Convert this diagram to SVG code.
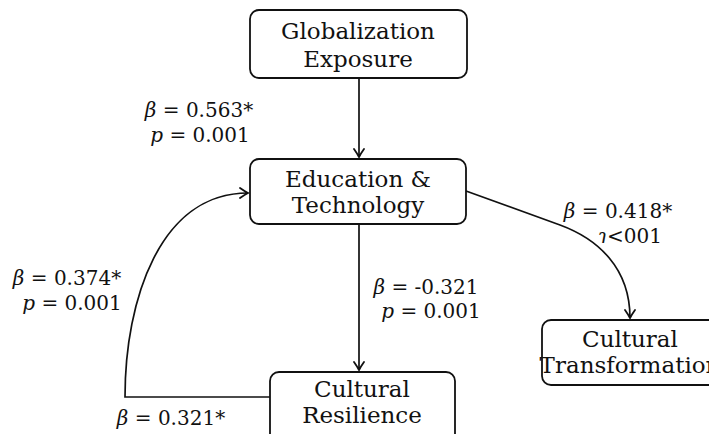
<svg xmlns="http://www.w3.org/2000/svg" width="709" height="434" viewBox="0 0 709 434">
<defs>
<style>
.box{fill:#fff;stroke:#111;stroke-width:1.8}
.nt{font-family:"DejaVu Serif","Liberation Serif",serif;font-size:23px;fill:#111;text-anchor:middle}
.lb{font-family:"DejaVu Serif","Liberation Serif",serif;font-size:20px;fill:#111;text-anchor:middle}
.it{font-style:italic}
.edge{fill:none;stroke:#111;stroke-width:1.7}
</style>
<marker id="ah" viewBox="-10 -6 12 12" refX="0" refY="0" markerWidth="12" markerHeight="12" markerUnits="userSpaceOnUse" orient="auto">
<path d="M-8,-5 Q-3,-1.5 0,0 Q-3,1.5 -8,5 M-2,0 L0,0" fill="none" stroke="#111" stroke-width="1.8" stroke-linecap="round"/>
</marker>
</defs>
<rect width="709" height="434" fill="#fff"/>
<g id="connectors">
<path class="edge" d="M359,78 L359,157" marker-end="url(#ah)"/>
<path class="edge" d="M359,224 L359,370" marker-end="url(#ah)"/>
<path class="edge" d="M270,397 L125,397 C125,300 160,193 248,193" marker-end="url(#ah)"/>
<path class="edge" d="M466,191 L560,225 C598,239 630,268 630,318" marker-end="url(#ah)"/>
</g>
<g id="globalization">
<rect class="box" x="250" y="10" width="217" height="68" rx="9"/>
<text class="nt" x="358" y="39">Globalization</text>
<text class="nt" x="358" y="67">Exposure</text>
</g>
<g id="education">
<rect class="box" x="250" y="159" width="216" height="65" rx="9"/>
<text class="nt" x="358" y="187">Education &amp;</text>
<text class="nt" x="358" y="213">Technology</text>
</g>
<g id="resilience">
<rect class="box" x="270" y="372" width="185" height="80" rx="9"/>
<text class="nt" x="362" y="397">Cultural</text>
<text class="nt" x="362" y="423">Resilience</text>
</g>
<g id="transformation">
<rect class="box" x="542" y="320" width="190" height="65" rx="9"/>
<text class="nt" x="630" y="347">Cultural</text>
<text class="nt" x="630" y="373">Transformation</text>
</g>
<g id="labels">
<text class="lb" x="199" y="117"><tspan class="it">β</tspan> = 0.563*</text>
<text class="lb" x="200" y="142"><tspan class="it">p</tspan> = 0.001</text>
<text class="lb" x="426" y="294"><tspan class="it">β</tspan> = -0.321</text>
<text class="lb" x="431" y="318"><tspan class="it">p</tspan> = 0.001</text>
<text class="lb" x="67" y="285"><tspan class="it">β</tspan> = 0.374*</text>
<text class="lb" x="72" y="310"><tspan class="it">p</tspan> = 0.001</text>
<text class="lb" x="171" y="425"><tspan class="it">β</tspan> = 0.321*</text>
<text class="lb" x="618" y="218"><tspan class="it">β</tspan> = 0.418*</text>
<text class="lb" x="630" y="243"><tspan class="it">ɿ</tspan>&lt;001</text>
</g>
</svg>
